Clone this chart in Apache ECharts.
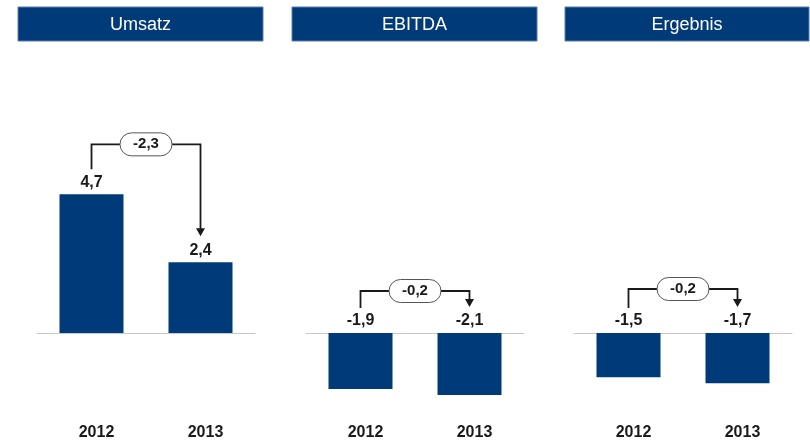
<!DOCTYPE html>
<html>
<head>
<meta charset="utf-8">
<script src="https://cdn.jsdelivr.net/npm/echarts@6/dist/echarts.min.js"></script>
<style>
  html, body { margin: 0; padding: 0; background: #fff; }
  #chart { width: 810px; height: 443px; }
</style>
</head>
<body>
<div id="chart"></div>
<script>
// data
const years = ["2012", "2013"];
const titles = ["Umsatz", "EBITDA", "Ergebnis"];
const umsatz = [4.7, 2.4];
const ebitda = [-1.9, -2.1];
const ergebnis = [-1.5, -1.7];
const deltas = [-2.3, -0.2, -0.2];

const values = [umsatz, ebitda, ergebnis];

// layout (px)
const gridLeft = [37, 306, 574];
const headerX = [18, 292, 565];
const headerW = [245, 245, 244];
const bracketRise = [50, 42, 44];

const BLUE = "#003a78";
const FONT = "'Liberation Sans', Arial, sans-serif";
const fmt = (v) => v.toFixed(1).replace(".", ",");

let chart = echarts.init(document.getElementById("chart"));

let grids = [], xAxes = [], yAxes = [], series = [], graphics = [];

titles.forEach((t, i) => {
  // header box
  graphics.push({
    type: "rect",
    shape: { x: headerX[i], y: 7, width: headerW[i], height: 34 },
    style: { fill: BLUE, stroke: "#5a7dab", lineWidth: 1 },
  });
  graphics.push({
    type: "text",
    x: headerX[i] + headerW[i] / 2,
    y: 25,
    style: {
      text: t, fill: "#fff", font: "18px " + FONT,
      align: "center", verticalAlign: "middle",
    },
  });

  // y range -3..6 at 29.5 px per unit, zero line at y = 333
  grids.push({
    left: gridLeft[i], width: 218, top: 156, height: 265.5,
    containLabel: false, outerBoundsMode: "none",
  });
  xAxes.push({
    type: "category",
    gridIndex: i,
    data: years,
    axisLine: { onZero: true, lineStyle: { color: "#c8c8c8", width: 1 } },
    axisTick: { show: false },
    axisLabel: {
      margin: 3,
      padding: [0, 0, 0, 10],
      color: "#1a1a1a",
      fontWeight: "bold",
      fontSize: 16,
      fontFamily: FONT,
    },
  });
  yAxes.push({ type: "value", gridIndex: i, min: -3, max: 6, show: false });

  series.push({
    type: "bar",
    xAxisIndex: i,
    yAxisIndex: i,
    data: values[i],
    barWidth: 64,
    itemStyle: { color: BLUE },
    label: {
      show: true,
      position: "top",
      distance: 4,
      formatter: (p) => fmt(p.value),
      color: "#1a1a1a",
      fontWeight: "bold",
      fontSize: 16,
      fontFamily: FONT,
    },
  });

  // bracket with arrow and delta pill
  series.push({
    type: "custom",
    xAxisIndex: i,
    yAxisIndex: i,
    clip: false,
    silent: true,
    data: [[0, values[i][0], values[i][1], deltas[i]]],
    renderItem: (params, api) => {
      const v0 = api.value(1), v1 = api.value(2), d = api.value(3);
      const p0 = api.coord([0, Math.max(v0, 0)]);
      const p1 = api.coord([1, Math.max(v1, 0)]);
      const yTop = Math.min(p0[1], p1[1]) - bracketRise[i];
      const yLeft = p0[1] - 25;
      const yTip = p1[1] - 26;
      const xm = (p0[0] + p1[0]) / 2;
      const line = { stroke: "#1a1a1a", lineWidth: 1.8, fill: null };
      return {
        type: "group",
        children: [
          {
            type: "polyline",
            shape: { points: [[p0[0], yLeft], [p0[0], yTop], [p1[0], yTop], [p1[0], yTip - 6]] },
            style: line,
          },
          {
            type: "polygon",
            shape: { points: [[p1[0] - 4.5, yTip - 8], [p1[0] + 4.5, yTip - 8], [p1[0], yTip]] },
            style: { fill: "#1a1a1a" },
          },
          {
            type: "rect",
            shape: { x: xm - 26, y: yTop - 11.5, width: 52, height: 23, r: 11.5 },
            style: { fill: "#fff", stroke: "#555", lineWidth: 1 },
          },
          {
            type: "text",
            x: xm,
            y: yTop,
            style: {
              text: fmt(d), fill: "#1a1a1a", font: "bold 15px " + FONT,
              align: "center", verticalAlign: "middle",
            },
          },
        ],
      };
    },
  });
});

let option = {
  animation: false,
  grid: grids,
  xAxis: xAxes,
  yAxis: yAxes,
  series: series,
  graphic: graphics,
};

chart.setOption(option);
</script>
</body>
</html>
